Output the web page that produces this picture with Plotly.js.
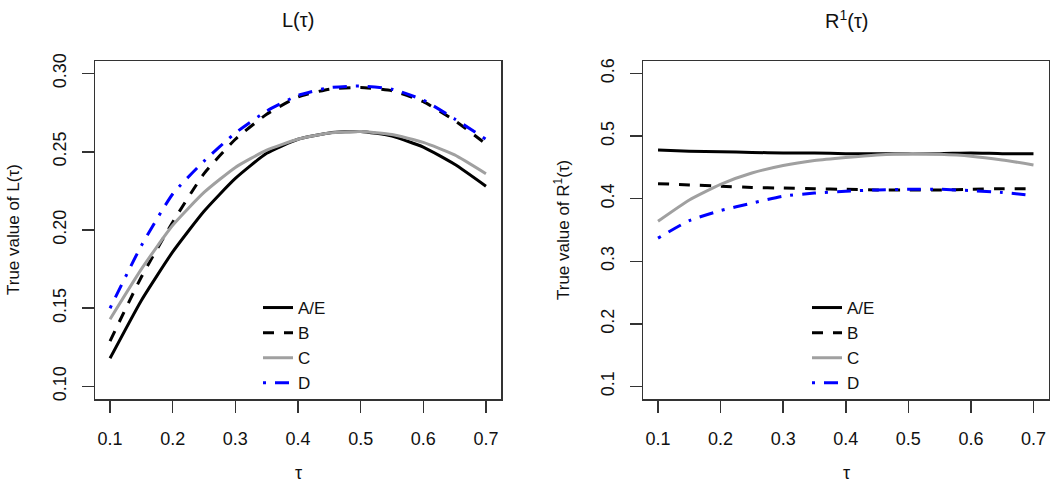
<!DOCTYPE html>
<html>
<head>
<meta charset="utf-8">
<script src="https://cdn.plot.ly/plotly-3.0.1.min.js"></script>
<style>
  html, body { margin: 0; padding: 0; background: #fff; }
  #chart { width: 1050px; height: 486px; }
</style>
</head>
<body>
<div id="chart"></div>
<script>
// tau grid shared by both panels
const tau = [0.10, 0.15, 0.20, 0.25, 0.30, 0.35, 0.40, 0.45, 0.50, 0.55, 0.60, 0.65, 0.70];

// L(tau)
const lAE = [0.118, 0.155, 0.186, 0.212, 0.233, 0.249, 0.258, 0.262, 0.263, 0.260, 0.253, 0.242, 0.228];
const lB  = [0.129, 0.170, 0.205, 0.236, 0.258, 0.274, 0.285, 0.290, 0.291, 0.289, 0.282, 0.270, 0.255];
const lC  = [0.143, 0.175, 0.203, 0.224, 0.240, 0.251, 0.258, 0.262, 0.263, 0.261, 0.256, 0.248, 0.236];
const lD  = [0.150, 0.190, 0.223, 0.244, 0.262, 0.276, 0.286, 0.291, 0.292, 0.290, 0.283, 0.271, 0.258];

// R^1(tau)
const rAE = [0.478, 0.476, 0.475, 0.474, 0.473, 0.473, 0.472, 0.472, 0.472, 0.472, 0.473, 0.472, 0.472];
const rB  = [0.424, 0.422, 0.420, 0.418, 0.417, 0.416, 0.415, 0.414, 0.414, 0.414, 0.415, 0.416, 0.416];
const rC  = [0.364, 0.398, 0.423, 0.441, 0.453, 0.461, 0.466, 0.470, 0.472, 0.471, 0.468, 0.462, 0.454];
const rD  = [0.337, 0.365, 0.381, 0.393, 0.404, 0.409, 0.412, 0.414, 0.415, 0.415, 0.413, 0.410, 0.405];

const seriesNames = ['A/E', 'B', 'C', 'D'];

const styles = {
    'A/E': { color: '#000000', dash: 'solid' },
    'B':   { color: '#000000', dash: '11px,10px' },
    'C':   { color: '#a0a0a0', dash: 'solid' },
    'D':   { color: '#0000ff', dash: '3px,9px,14px,9px' }
};

const FONT = 'Liberation Sans, Arial, sans-serif';
const W = 1050, H = 486;
const TOP = 61, BOTTOM = 399;
const PH = BOTTOM - TOP;

function makeTrace(name, y, xa, ya, legend) {
    const s = styles[name];
    return {
        x: tau,
        y: y,
        xaxis: xa,
        yaxis: ya,
        legend: legend,
        mode: 'lines',
        name: name,
        line: { color: s.color, width: 3, dash: s.dash, shape: 'spline', smoothing: 0.5 },
        hoverinfo: 'skip'
    };
}

const leftData = [lAE, lB, lC, lD];
const rightData = [rAE, rB, rC, rD];

const traces = [];
seriesNames.forEach((n, i) => traces.push(makeTrace(n, leftData[i], 'x', 'y', 'legend')));
seriesNames.forEach((n, i) => traces.push(makeTrace(n, rightData[i], 'x2', 'y2', 'legend2')));

const axisCommon = {
    showline: true,
    mirror: true,
    linecolor: '#333333',
    linewidth: 1.5,
    ticks: 'outside',
    ticklen: 12,
    tickwidth: 1.5,
    tickcolor: '#333333',
    showgrid: false,
    zeroline: false,
    tickfont: { family: FONT, size: 18, color: '#111111' }
};

const xCommon = Object.assign({}, axisCommon, {
    range: [0.076, 0.724],
    tickmode: 'linear',
    tick0: 0.1,
    dtick: 0.1,
    tickformat: '.1f',
    ticklabelstandoff: 11
});

const legendCommon = {
    xanchor: 'left', yanchor: 'top',
    bgcolor: 'rgba(0,0,0,0)',
    borderwidth: 0,
    font: { family: FONT, size: 17, color: '#111111' },
    tracegroupgap: 0
};

const layout = {
    width: W,
    height: H,
    margin: { l: 0, r: 0, t: TOP, b: H - BOTTOM },
    paper_bgcolor: '#ffffff',
    plot_bgcolor: '#ffffff',
    showlegend: true,
    xaxis: Object.assign({}, xCommon, { domain: [95 / W, 501 / W], anchor: 'y' }),
    xaxis2: Object.assign({}, xCommon, { domain: [643 / W, 1048.5 / W], anchor: 'y2' }),
    yaxis: Object.assign({}, axisCommon, {
        anchor: 'x',
        range: [0.092, 0.308],
        tickmode: 'linear',
        tick0: 0.1,
        dtick: 0.05,
        tickformat: '.2f',
        tickangle: -90,
        ticklabelstandoff: 8
    }),
    yaxis2: Object.assign({}, axisCommon, {
        anchor: 'x2',
        range: [0.08, 0.62],
        tickmode: 'linear',
        tick0: 0.1,
        dtick: 0.1,
        tickformat: '.1f',
        tickangle: -90,
        ticklabelstandoff: 8
    }),
    legend: Object.assign({}, legendCommon, { x: 258 / W, y: 1 - (290 - TOP) / PH }),
    legend2: Object.assign({}, legendCommon, { x: 807 / W, y: 1 - (290 - TOP) / PH }),
    annotations: [
        { text: 'L(τ)', xref: 'paper', yref: 'paper', x: 298 / W, y: 1 + (TOP - 20) / PH,
          showarrow: false, xanchor: 'center', yanchor: 'middle',
          font: { family: FONT, size: 20, color: '#111111' } },
        { text: 'R<sup>1</sup>(τ)', xref: 'paper', yref: 'paper', x: 846 / W, y: 1 + (TOP - 20) / PH,
          showarrow: false, xanchor: 'center', yanchor: 'middle',
          font: { family: FONT, size: 20, color: '#111111' } },
        { text: 'τ', xref: 'paper', yref: 'paper', x: 298 / W, y: -(473 - BOTTOM) / PH,
          showarrow: false, xanchor: 'center', yanchor: 'middle',
          font: { family: FONT, size: 18, color: '#111111' } },
        { text: 'τ', xref: 'paper', yref: 'paper', x: 846 / W, y: -(473 - BOTTOM) / PH,
          showarrow: false, xanchor: 'center', yanchor: 'middle',
          font: { family: FONT, size: 18, color: '#111111' } },
        { text: 'True value of L(τ)', xref: 'paper', yref: 'paper', x: 13 / W, y: 0.5,
          textangle: -90, showarrow: false, xanchor: 'center', yanchor: 'middle',
          font: { family: FONT, size: 17, color: '#111111' } },
        { text: 'True value of R<sup>1</sup>(τ)', xref: 'paper', yref: 'paper', x: 562 / W, y: 0.5,
          textangle: -90, showarrow: false, xanchor: 'center', yanchor: 'middle',
          font: { family: FONT, size: 17, color: '#111111' } }
    ]
};

Plotly.newPlot('chart', traces, layout, { displayModeBar: false, staticPlot: true });
</script>
</body>
</html>
